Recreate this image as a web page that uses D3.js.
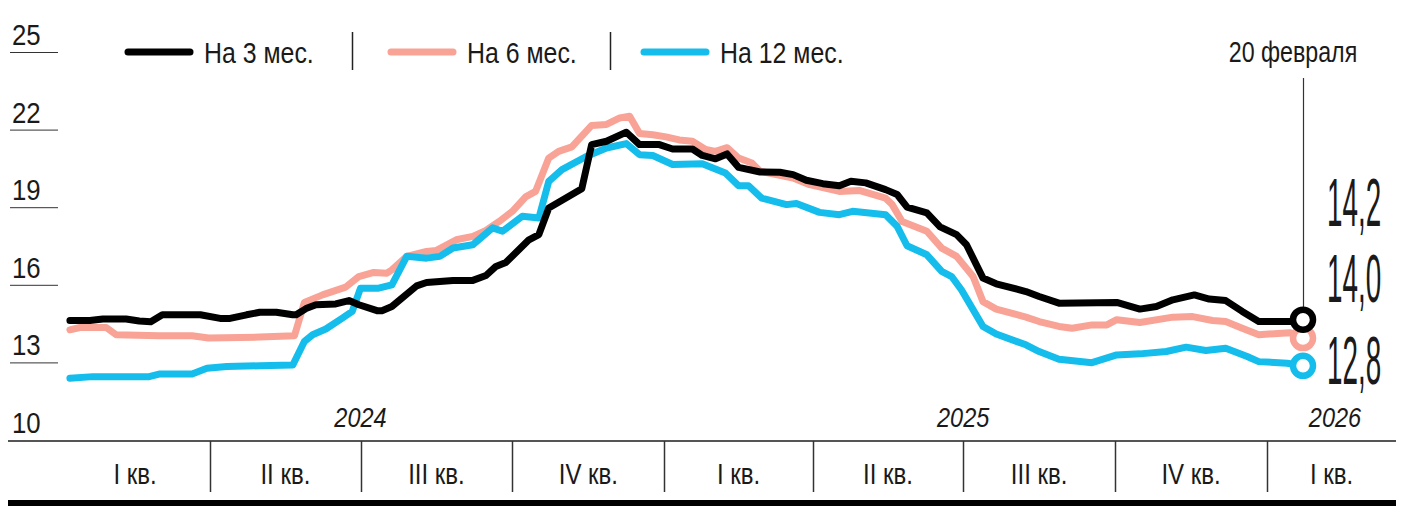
<!DOCTYPE html>
<html>
<head>
<meta charset="utf-8">
<script src="https://cdn.jsdelivr.net/npm/d3@7"></script>
<style>
  body { margin: 0; background: #fff; }
  #chart svg { display: block; font-family: "Liberation Sans", Arial, sans-serif; fill: #1a1a1a; }
  .rate-chart__line { fill: none; stroke-width: 7; stroke-linejoin: round; stroke-linecap: round; }
  .rate-chart__tick { stroke: #333; stroke-width: 1; }
  .rate-chart__axis { stroke: #555; stroke-width: 2; }
  .rate-chart__divider { stroke: #333; stroke-width: 1.5; }
  .rate-chart__base { stroke: #000; stroke-width: 6; }
  .rate-chart__sep { stroke: #222; stroke-width: 1.5; }
</style>
</head>
<body>
<div id="chart"></div>
<script>
// rates, % — 3, 6 and 12 month terms
const rate3m = [
  ['2024-01-07', 14.62], ['2024-01-19', 14.62], ['2024-01-27', 14.68], ['2024-02-10', 14.68],
  ['2024-02-18', 14.6], ['2024-02-25', 14.57], ['2024-03-03', 14.84], ['2024-03-26', 14.84],
  ['2024-04-07', 14.7], ['2024-04-13', 14.7], ['2024-04-23', 14.84], ['2024-05-01', 14.94],
  ['2024-05-11', 14.94], ['2024-05-21', 14.84], ['2024-05-23', 14.84], ['2024-05-29', 15.08],
  ['2024-06-04', 15.23], ['2024-06-16', 15.26], ['2024-06-24', 15.39], ['2024-06-30', 15.23],
  ['2024-07-11', 15.0], ['2024-07-14', 15.0], ['2024-07-20', 15.16], ['2024-08-04', 15.96],
  ['2024-08-10', 16.09], ['2024-08-26', 16.17], ['2024-09-07', 16.17], ['2024-09-15', 16.36],
  ['2024-09-21', 16.71], ['2024-09-27', 16.86], ['2024-10-11', 17.74], ['2024-10-17', 17.94],
  ['2024-10-23', 18.97], ['2024-10-29', 19.19], ['2024-11-12', 19.71], ['2024-11-18', 21.42],
  ['2024-11-27', 21.55], ['2024-12-09', 21.9], ['2024-12-17', 21.42], ['2024-12-29', 21.42],
  ['2025-01-06', 21.25], ['2025-01-18', 21.25], ['2025-01-24', 21.0], ['2025-02-01', 20.87],
  ['2025-02-08', 21.06], ['2025-02-15', 20.54], ['2025-02-28', 20.36], ['2025-03-12', 20.35],
  ['2025-03-20', 20.26], ['2025-03-28', 20.04], ['2025-04-07', 19.91], ['2025-04-17', 19.83],
  ['2025-04-24', 20.0], ['2025-05-03', 19.94], ['2025-05-15', 19.68], ['2025-05-22', 19.49],
  ['2025-05-28', 19.0], ['2025-06-09', 18.78], ['2025-06-17', 18.24], ['2025-06-27', 17.94],
  ['2025-07-03', 17.55], ['2025-07-13', 16.26], ['2025-07-21', 16.04], ['2025-08-08', 15.74],
  ['2025-08-16', 15.55], ['2025-08-28', 15.29], ['2025-10-02', 15.32], ['2025-10-16', 15.06],
  ['2025-10-26', 15.16], ['2025-11-05', 15.42], ['2025-11-18', 15.61], ['2025-11-27', 15.45],
  ['2025-12-07', 15.39], ['2025-12-17', 14.97], ['2025-12-27', 14.58], ['2026-02-02', 14.58],
  ['2026-02-20', 14.65]
];

const rate6m = [
  ['2024-01-07', 14.26], ['2024-01-13', 14.35], ['2024-01-29', 14.35], ['2024-02-04', 14.07],
  ['2024-03-01', 14.03], ['2024-03-21', 14.03], ['2024-03-31', 13.94], ['2024-05-01', 13.98],
  ['2024-05-22', 14.03], ['2024-05-28', 15.32], ['2024-06-08', 15.61], ['2024-06-22', 15.91],
  ['2024-06-30', 16.32], ['2024-07-09', 16.48], ['2024-07-17', 16.45], ['2024-07-20', 16.58],
  ['2024-07-29', 17.1], ['2024-08-10', 17.29], ['2024-08-16', 17.33], ['2024-08-28', 17.74],
  ['2024-09-07', 17.87], ['2024-09-15', 18.1], ['2024-09-23', 18.45], ['2024-10-01', 18.84],
  ['2024-10-09', 19.4], ['2024-10-15', 19.61], ['2024-10-23', 20.9], ['2024-10-29', 21.16],
  ['2024-11-06', 21.33], ['2024-11-18', 22.16], ['2024-11-27', 22.2], ['2024-12-05', 22.45],
  ['2024-12-11', 22.52], ['2024-12-17', 21.85], ['2024-12-25', 21.8], ['2025-01-02', 21.72],
  ['2025-01-10', 21.6], ['2025-01-18', 21.55], ['2025-01-26', 21.23], ['2025-02-01', 21.16],
  ['2025-02-08', 21.3], ['2025-02-15', 20.9], ['2025-02-23', 20.71], ['2025-02-28', 20.39],
  ['2025-03-20', 20.13], ['2025-03-30', 19.87], ['2025-04-17', 19.61], ['2025-04-29', 19.65],
  ['2025-05-15', 19.35], ['2025-05-19', 19.1], ['2025-05-25', 18.45], ['2025-06-09', 18.07],
  ['2025-06-18', 17.42], ['2025-06-27', 17.1], ['2025-07-07', 16.32], ['2025-07-13', 15.35],
  ['2025-07-21', 15.06], ['2025-08-08', 14.75], ['2025-08-16', 14.58], ['2025-08-28', 14.39],
  ['2025-09-05', 14.32], ['2025-09-17', 14.45], ['2025-09-26', 14.45], ['2025-10-02', 14.65],
  ['2025-10-16', 14.54], ['2025-11-05', 14.75], ['2025-11-17', 14.77], ['2025-11-29', 14.62],
  ['2025-12-07', 14.58], ['2025-12-17', 14.32], ['2025-12-27', 14.07], ['2026-02-02', 14.15],
  ['2026-02-20', 13.94]
];

const rate12m = [
  ['2024-01-07', 12.39], ['2024-01-21', 12.45], ['2024-02-24', 12.45], ['2024-03-01', 12.55],
  ['2024-03-21', 12.55], ['2024-03-30', 12.77], ['2024-04-11', 12.84], ['2024-05-01', 12.87],
  ['2024-05-21', 12.9], ['2024-05-28', 13.81], ['2024-06-02', 14.07], ['2024-06-10', 14.29],
  ['2024-06-20', 14.71], ['2024-06-26', 14.97], ['2024-07-01', 15.87], ['2024-07-12', 15.87],
  ['2024-07-20', 16.0], ['2024-07-29', 17.1], ['2024-08-10', 17.03], ['2024-08-18', 17.1],
  ['2024-08-26', 17.42], ['2024-09-07', 17.55], ['2024-09-19', 18.2], ['2024-09-25', 18.07],
  ['2024-10-07', 18.65], ['2024-10-17', 18.58], ['2024-10-23', 20.0], ['2024-10-31', 20.45],
  ['2024-11-15', 20.97], ['2024-11-27', 21.29], ['2024-12-09', 21.46], ['2024-12-17', 21.03],
  ['2024-12-25', 21.0], ['2025-01-06', 20.65], ['2025-01-24', 20.68], ['2025-02-07', 20.32],
  ['2025-02-15', 19.83], ['2025-02-21', 19.83], ['2025-03-01', 19.35], ['2025-03-16', 19.1],
  ['2025-03-22', 19.14], ['2025-04-05', 18.8], ['2025-04-17', 18.71], ['2025-04-25', 18.84],
  ['2025-05-15', 18.71], ['2025-05-22', 18.26], ['2025-05-28', 17.51], ['2025-06-09', 17.16],
  ['2025-06-18', 16.52], ['2025-06-24', 16.32], ['2025-06-30', 15.8], ['2025-07-13', 14.39],
  ['2025-07-21', 14.1], ['2025-08-08', 13.68], ['2025-08-16', 13.42], ['2025-08-28', 13.12],
  ['2025-09-17', 12.99], ['2025-10-02', 13.29], ['2025-10-16', 13.33], ['2025-11-01', 13.42],
  ['2025-11-13', 13.59], ['2025-11-25', 13.46], ['2025-12-07', 13.55], ['2025-12-20', 13.23],
  ['2025-12-27', 13.03], ['2026-01-29', 12.97], ['2026-02-20', 12.87]
];

const yTicks = [10, 13, 16, 19, 22, 25];
const quarterStarts = ['2024-01-01', '2024-04-01', '2024-07-01', '2024-10-01', '2025-01-01',
  '2025-04-01', '2025-07-01', '2025-10-01', '2026-01-01'];
const quarterLabels = ['I кв.', 'II кв.', 'III кв.', 'IV кв.', 'I кв.', 'II кв.', 'III кв.', 'IV кв.', 'I кв.'];
const yearLabels = ['2024', '2025', '2026'];
const yearPositions = ['2024-07-01', '2025-07-01', '2026-02-20'];
const seriesNames = ['На 3 мес.', 'На 6 мес.', 'На 12 мес.'];
const seriesColors = ['#000000', '#f8a396', '#14bdeb'];
const lastValueLabels = ['14,2', '14,0', '12,8'];
const lastDateLabel = '20 февраля';

// condensed look: horizontal squeeze of a regular sans
const squeeze = (x, y, sx) => `translate(${x},${y}) scale(${sx},1)`;

class RateChart {
  constructor(el) {
    this.el = el;
    this.width = 1411;
    this.height = 519;
    this.parse = d3.timeParse('%Y-%m-%d');
  }

  render() {
    this.svg = d3.select(this.el).append('svg')
        .attr('width', this.width)
        .attr('height', this.height);

    // last quarter is compressed in the original layout
    this.x = d3.scaleTime()
      .domain([this.parse('2024-01-01'), this.parse('2026-01-01'), this.parse('2026-02-20')])
      .range([60, 1267, 1303]);

    this.y = d3.scaleLinear()
      .domain([10, 25])
      .range([440, 52]);

    this.drawYAxis();
    this.drawXAxis();
    this.drawLines();
    this.drawLegend();
    this.drawEnd();
  }

  drawYAxis() {
    const g = this.svg.append('g').attr('class', 'rate-chart__y');

    g.selectAll('line')
        .data(yTicks)
      .enter().append('line')
        .attr('class', 'rate-chart__tick')
        .attr('x1', 10)
        .attr('x2', 58)
        .attr('y1', d => this.y(d) + 0.5)
        .attr('y2', d => this.y(d) + 0.5);

    g.selectAll('text')
        .data(yTicks)
      .enter().append('text')
        .attr('transform', d => squeeze(12, this.y(d) - 7, 0.86))
        .style('font-size', '30px')
        .text(d => d);
  }

  drawXAxis() {
    const g = this.svg.append('g').attr('class', 'rate-chart__x');
    const starts = quarterStarts.map(this.parse);
    const right = 1396;

    g.append('line')
        .attr('class', 'rate-chart__axis')
        .attr('x1', 8).attr('x2', right)
        .attr('y1', 441).attr('y2', 441);

    g.selectAll('.rate-chart__divider')
        .data(starts.slice(1))
      .enter().append('line')
        .attr('class', 'rate-chart__divider')
        .attr('x1', d => Math.round(this.x(d)) + 0.5)
        .attr('x2', d => Math.round(this.x(d)) + 0.5)
        .attr('y1', 441)
        .attr('y2', 492);

    g.selectAll('.rate-chart__quarter')
        .data(quarterLabels)
      .enter().append('text')
        .attr('class', 'rate-chart__quarter')
        .attr('transform', (d, i) => {
          const x0 = this.x(starts[i]);
          const x1 = i < starts.length - 1 ? this.x(starts[i + 1]) : right;
          return squeeze((x0 + x1) / 2, 484, 0.8);
        })
        .attr('text-anchor', 'middle')
        .style('font-size', '30px')
        .text(d => d);

    g.selectAll('.rate-chart__year')
        .data(yearLabels)
      .enter().append('text')
        .attr('class', 'rate-chart__year')
        .attr('transform', (d, i) => {
          const cx = i === yearLabels.length - 1 ? 1335 : this.x(this.parse(yearPositions[i]));
          return squeeze(cx, 427, 0.84);
        })
        .attr('text-anchor', 'middle')
        .style('font-size', '28px')
        .style('font-style', 'italic')
        .text(d => d);

    g.append('line')
        .attr('class', 'rate-chart__base')
        .attr('x1', 8).attr('x2', right)
        .attr('y1', 503).attr('y2', 503);
  }

  drawLines() {
    const line = d3.line()
      .x(d => this.x(this.parse(d[0])))
      .y(d => this.y(d[1]));

    const data = [rate3m, rate6m, rate12m];
    // pink first, then blue, black on top
    [1, 2, 0].forEach(i => {
      this.svg.append('path')
          .datum(data[i])
          .attr('class', 'rate-chart__line')
          .attr('stroke', seriesColors[i])
          .attr('d', line);
    });

    this.lastPoints = data.map(s => s[s.length - 1]);
  }

  drawLegend() {
    const g = this.svg.append('g').attr('class', 'rate-chart__legend');
    const lineX = [128, 391, 644];
    const sepX = [352.5, 610.5];

    g.selectAll('line.swatch')
        .data(seriesNames)
      .enter().append('line')
        .attr('class', 'swatch')
        .attr('x1', (d, i) => lineX[i])
        .attr('x2', (d, i) => lineX[i] + 62)
        .attr('y1', 52).attr('y2', 52)
        .attr('stroke', (d, i) => seriesColors[i])
        .attr('stroke-width', 7)
        .attr('stroke-linecap', 'round');

    g.selectAll('text')
        .data(seriesNames)
      .enter().append('text')
        .attr('transform', (d, i) => squeeze(lineX[i] + 76, 63, 0.83))
        .style('font-size', '30px')
        .text(d => d);

    g.selectAll('line.rate-chart__sep')
        .data(sepX)
      .enter().append('line')
        .attr('class', 'rate-chart__sep')
        .attr('x1', d => d).attr('x2', d => d)
        .attr('y1', 32).attr('y2', 70);
  }

  drawEnd() {
    const endX = this.x(this.parse(this.lastPoints[0][0]));

    this.svg.append('line')
        .attr('x1', Math.round(endX) + 0.5)
        .attr('x2', Math.round(endX) + 0.5)
        .attr('y1', 78)
        .attr('y2', this.y(this.lastPoints[0][1]) - 10)
        .attr('stroke', '#333')
        .attr('stroke-width', 1.2);

    this.svg.append('text')
        .attr('transform', squeeze(endX - 10, 62, 0.8))
        .attr('text-anchor', 'middle')
        .style('font-size', '29px')
        .text(lastDateLabel);

    [1, 2, 0].forEach(i => {
      this.svg.append('circle')
          .attr('cx', endX)
          .attr('cy', this.y(this.lastPoints[i][1]))
          .attr('r', 10)
          .attr('fill', '#fff')
          .attr('stroke', seriesColors[i])
          .attr('stroke-width', 6.5);
    });

    const labelY = [226, 302, 384];
    this.svg.selectAll('.rate-chart__last')
        .data(lastValueLabels)
      .enter().append('text')
        .attr('class', 'rate-chart__last')
        .attr('transform', (d, i) => squeeze(1327, labelY[i], 0.41))
        .style('font-size', '68px')
        .text(d => d);
  }
}

new RateChart('#chart').render();
</script>
</body>
</html>
